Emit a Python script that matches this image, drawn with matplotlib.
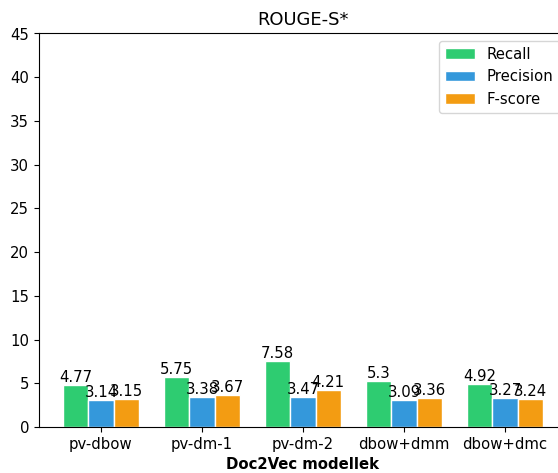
import numpy as np
import matplotlib
matplotlib.use("Agg")
import matplotlib.pyplot as plt

models = ["pv-dbow", "pv-dm-1", "pv-dm-2", "dbow+dmm", "dbow+dmc"]
recall = [4.77, 5.75, 7.58, 5.3, 4.92]
precision = [3.14, 3.38, 3.47, 3.09, 3.27]
fscore = [3.15, 3.67, 4.21, 3.36, 3.24]

series = [("Recall", recall, "#2ecc71"),
          ("Precision", precision, "#3498db"),
          ("F-score", fscore, "#f39c12")]

plt.rcParams["font.size"] = 10.7

fig = plt.figure(figsize=(5.58, 4.73), dpi=100)
# axes run a little past the right edge, like the cropped original
ax = fig.add_axes([39 / 558, 46 / 473, 528 / 558, 393.5 / 473])

x = np.arange(len(models))
w = 0.25
for i, (name, vals, col) in enumerate(series):
    pos = x + (i - 1) * w
    ax.bar(pos, vals, w, label=name, color=col, edgecolor="white")
    for p, v in zip(pos, vals):
        ax.text(p, v, str(v), ha="center", va="bottom")

ax.set_ylim(0, 45)
ax.set_yticks(range(0, 46, 5))
ax.set_xticks(x)
ax.set_xticklabels(models)
ax.set_xlabel("Doc2Vec modellek", fontweight="bold")
ax.set_title("ROUGE-S*")
ax.legend(loc="upper right")

fig.savefig("out.png", dpi=100)
